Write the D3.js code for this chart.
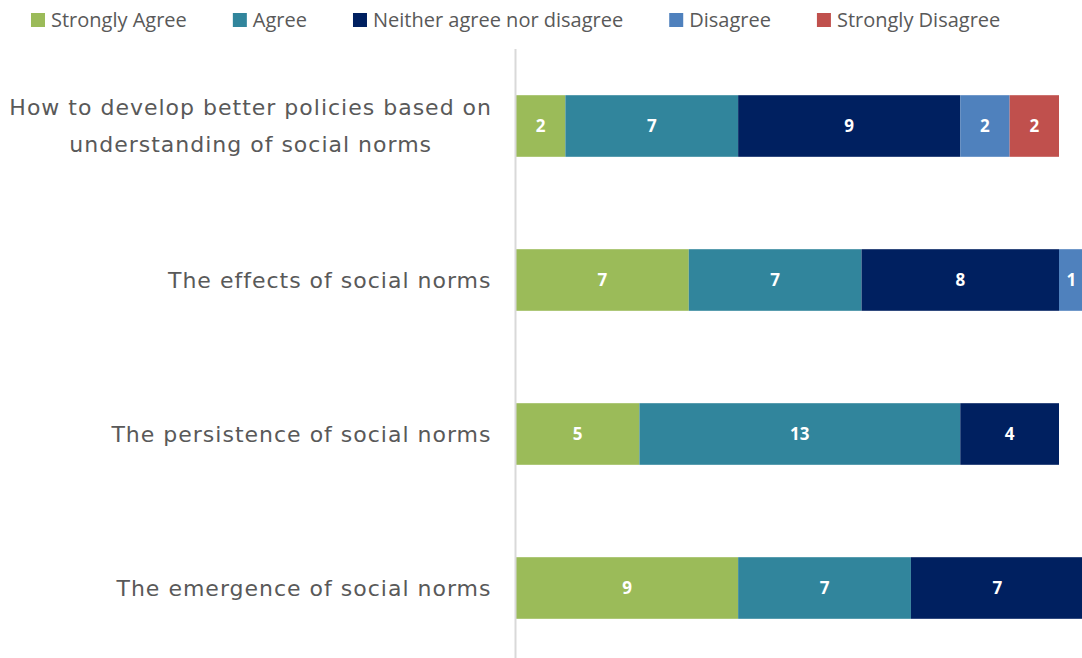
<!DOCTYPE html>
<html lang="en">
<head>
<meta charset="UTF-8">
<title>Social norms survey</title>
<script src="https://d3js.org/d3.v7.min.js"></script>
<style>
  body { margin: 0; background: #fff; }
</style>
</head>
<body>
<div id="chart"></div>
<script>
// data
const categories = [
  "How to develop better policies based on understanding of social norms",
  "The effects of social norms",
  "The persistence of social norms",
  "The emergence of social norms"
];
const responses = ["Strongly Agree", "Agree", "Neither agree nor disagree", "Disagree", "Strongly Disagree"];
const stronglyAgree = [2, 7, 5, 9];
const agree = [7, 7, 13, 7];
const neither = [9, 8, 4, 7];
const disagree = [2, 1, 0, 0];
const stronglyDisagree = [2, 0, 0, 0];
const colors = ["#9BBB59", "#31859C", "#002060", "#4F81BD", "#C0504D"];

const width = 1082, height = 658;
const left = 516;

const rows = categories.map((c, i) => ({
  cat: c,
  "Strongly Agree": stronglyAgree[i],
  "Agree": agree[i],
  "Neither agree nor disagree": neither[i],
  "Disagree": disagree[i],
  "Strongly Disagree": stronglyDisagree[i]
}));

const stack = d3.stack().keys(responses)(rows);

const svg = d3.select("#chart").append("svg")
  .attr("width", width)
  .attr("height", height);

const x = d3.scaleLinear().domain([0, 22]).range([left, 1059]);
const y = d3.scaleBand().domain(categories).range([49, 665]).paddingInner(0.6).paddingOuter(0.3);

// bars
const layer = svg.selectAll("g.layer")
  .data(stack)
  .enter().append("g")
  .attr("class", "layer")
  .attr("fill", (d, i) => colors[i]);

layer.selectAll("rect")
  .data(d => d.filter(s => s[1] - s[0] > 0))
  .enter().append("rect")
  .attr("x", d => x(d[0]))
  .attr("y", d => y(d.data.cat))
  .attr("width", d => x(d[1]) - x(d[0]))
  .attr("height", y.bandwidth());

// value labels
layer.selectAll("text")
  .data(d => d.filter(s => s[1] - s[0] > 0))
  .enter().append("text")
  .attr("x", d => (x(d[0]) + Math.min(x(d[1]), width + 8)) / 2)
  .attr("y", d => y(d.data.cat) + y.bandwidth() / 2)
  .attr("dy", "0.36em")
  .attr("text-anchor", "middle")
  .attr("fill", "#fff")
  .style("font-family", "'Open Sans', sans-serif")
  .style("font-weight", "bold")
  .style("font-size", "17px")
  .text(d => d[1] - d[0]);

// axis line
svg.append("line")
  .attr("x1", left - 0.5).attr("x2", left - 0.5)
  .attr("y1", 49).attr("y2", height)
  .attr("stroke", "#D9D9D9")
  .attr("stroke-width", 2);

// category labels (wrapped)
const wrapped = {
  [categories[0]]: ["How to develop better policies based on", "understanding of social norms"]
};
categories.forEach(c => {
  const lines = wrapped[c] || [c];
  const cy = y(c) + y.bandwidth() / 2;
  const t = svg.append("text")
    .attr("text-anchor", "middle")
    .attr("fill", "#595959")
    .style("font-family", "'DejaVu Sans', Verdana, sans-serif")
    .style("font-size", "22px")
    .style("letter-spacing", "1px");
  lines.forEach((l, j) => {
    t.append("tspan")
      .attr("x", 0)
      .attr("y", cy + (j - (lines.length - 1) / 2) * 37)
      .attr("dy", "0.35em")
      .text(l);
  });
  // right-align block, center lines inside it
  const w = t.node().getBBox().width;
  t.selectAll("tspan").attr("x", 492 - w / 2);
});

// legend
const legend = svg.append("g");
let lx = 31;
responses.forEach((r, i) => {
  legend.append("rect")
    .attr("x", lx).attr("y", 13)
    .attr("width", 14).attr("height", 14)
    .attr("fill", colors[i]);
  const t = legend.append("text")
    .attr("x", lx + 20).attr("y", 20)
    .attr("dy", "0.35em")
    .attr("fill", "#595959")
    .style("font-family", "'Open Sans', sans-serif")
    .style("font-size", "20px")
    .text(r);
  lx += 20 + t.node().getComputedTextLength() + 46;
});
</script>
</body>
</html>
